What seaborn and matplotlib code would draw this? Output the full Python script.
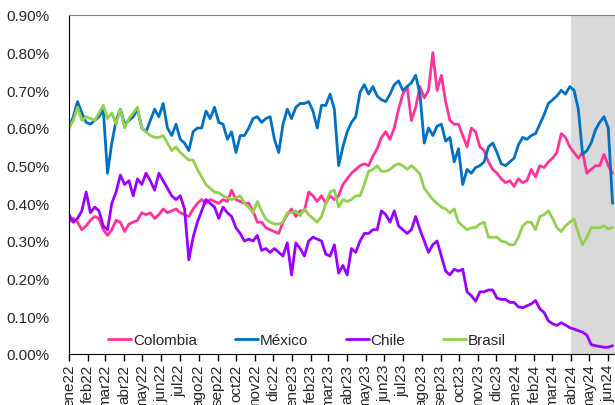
import pandas as pd
import matplotlib
matplotlib.use('Agg')
import matplotlib.pyplot as plt
import matplotlib.ticker as mticker
import seaborn as sns

# semanas desde ene-2022 hasta jun-2024 (valores en %)
fechas = pd.date_range('2022-01-01', periods=128, freq='7D')

colombia = [
    0.35, 0.36, 0.35, 0.33, 0.34, 0.355, 0.365, 0.36, 0.33, 0.315,
    0.33, 0.355, 0.35, 0.325, 0.345, 0.35, 0.355, 0.375, 0.37, 0.375,
    0.36, 0.37, 0.385, 0.375, 0.38, 0.385, 0.375, 0.37, 0.365, 0.385,
    0.40, 0.41, 0.40, 0.41, 0.405, 0.40, 0.41, 0.405, 0.435, 0.41,
    0.405, 0.40, 0.40, 0.38, 0.35, 0.35, 0.335, 0.33, 0.325, 0.32,
    0.35, 0.37, 0.385, 0.365, 0.38, 0.38, 0.43, 0.42, 0.405, 0.42,
    0.40, 0.42, 0.41, 0.42, 0.45, 0.465, 0.48, 0.49, 0.50, 0.505,
    0.50, 0.525, 0.545, 0.575, 0.59, 0.57, 0.60, 0.65, 0.69, 0.71,
    0.62, 0.655, 0.71, 0.68, 0.70, 0.80, 0.70, 0.74, 0.67, 0.62,
    0.61, 0.61, 0.58, 0.55, 0.60, 0.59, 0.55, 0.54, 0.51, 0.49,
    0.48, 0.465, 0.455, 0.46, 0.445, 0.465, 0.455, 0.46, 0.49, 0.47,
    0.50, 0.495, 0.51, 0.52, 0.535, 0.585, 0.575, 0.55, 0.535, 0.52,
    0.535, 0.48, 0.49, 0.50, 0.50, 0.53, 0.50, 0.48,
]

mexico = [
    0.60, 0.63, 0.67, 0.64, 0.615, 0.61, 0.62, 0.63, 0.65, 0.48,
    0.56, 0.62, 0.65, 0.61, 0.62, 0.63, 0.65, 0.60, 0.59, 0.62,
    0.65, 0.63, 0.665, 0.60, 0.58, 0.61, 0.57, 0.56, 0.54, 0.59,
    0.60, 0.60, 0.645, 0.625, 0.655, 0.615, 0.61, 0.57, 0.59, 0.535,
    0.58, 0.58, 0.60, 0.625, 0.63, 0.615, 0.625, 0.63, 0.57, 0.535,
    0.61, 0.65, 0.625, 0.655, 0.665, 0.665, 0.67, 0.645, 0.60, 0.66,
    0.66, 0.69, 0.65, 0.50, 0.55, 0.59, 0.615, 0.63, 0.695, 0.715,
    0.69, 0.71, 0.685, 0.675, 0.67, 0.69, 0.715, 0.725, 0.70, 0.71,
    0.72, 0.74, 0.69, 0.56, 0.60, 0.58, 0.605, 0.61, 0.565, 0.575,
    0.51, 0.545, 0.45, 0.49, 0.48, 0.495, 0.50, 0.51, 0.55, 0.56,
    0.535, 0.505, 0.50, 0.51, 0.52, 0.555, 0.575, 0.57, 0.58, 0.585,
    0.61, 0.635, 0.665, 0.675, 0.685, 0.70, 0.69, 0.71, 0.70, 0.65,
    0.53, 0.54, 0.56, 0.595, 0.615, 0.63, 0.60, 0.40,
]

chile = [
    0.37, 0.35, 0.36, 0.38, 0.43, 0.375, 0.39, 0.38, 0.34, 0.33,
    0.40, 0.43, 0.475, 0.45, 0.46, 0.42, 0.465, 0.45, 0.48, 0.46,
    0.435, 0.48, 0.46, 0.44, 0.42, 0.41, 0.42, 0.385, 0.25, 0.31,
    0.35, 0.38, 0.41, 0.40, 0.39, 0.36, 0.39, 0.375, 0.365, 0.335,
    0.32, 0.30, 0.305, 0.30, 0.315, 0.275, 0.28, 0.27, 0.28, 0.27,
    0.26, 0.295, 0.21, 0.295, 0.28, 0.26, 0.30, 0.31, 0.305, 0.30,
    0.265, 0.26, 0.29, 0.215, 0.235, 0.21, 0.28, 0.27, 0.30, 0.32,
    0.32, 0.33, 0.33, 0.38, 0.37, 0.35, 0.38, 0.34, 0.33, 0.32,
    0.33, 0.365, 0.33, 0.30, 0.27, 0.29, 0.30, 0.26, 0.22, 0.21,
    0.225, 0.22, 0.225, 0.165, 0.155, 0.14, 0.165, 0.165, 0.17, 0.17,
    0.148, 0.145, 0.145, 0.137, 0.137, 0.125, 0.123, 0.128, 0.133, 0.142,
    0.12, 0.11, 0.088, 0.08, 0.076, 0.083, 0.077, 0.07, 0.066, 0.062,
    0.058, 0.05, 0.025, 0.022, 0.02, 0.018, 0.018, 0.022,
]

brasil = [
    0.60, 0.62, 0.655, 0.62, 0.63, 0.625, 0.62, 0.64, 0.66, 0.625,
    0.64, 0.61, 0.65, 0.60, 0.625, 0.64, 0.655, 0.60, 0.59, 0.58,
    0.575, 0.575, 0.58, 0.56, 0.54, 0.55, 0.535, 0.525, 0.515, 0.515,
    0.49, 0.47, 0.45, 0.44, 0.43, 0.428, 0.42, 0.415, 0.41, 0.415,
    0.42, 0.40, 0.39, 0.375, 0.405, 0.38, 0.358, 0.35, 0.345, 0.345,
    0.35, 0.375, 0.375, 0.38, 0.367, 0.385, 0.37, 0.36, 0.35, 0.365,
    0.40, 0.43, 0.435, 0.39, 0.41, 0.405, 0.41, 0.42, 0.42, 0.45,
    0.485, 0.49, 0.50, 0.485, 0.485, 0.49, 0.50, 0.505, 0.50, 0.49,
    0.50, 0.49, 0.478, 0.44, 0.425, 0.41, 0.40, 0.39, 0.385, 0.375,
    0.385, 0.35, 0.34, 0.33, 0.335, 0.336, 0.345, 0.35, 0.31, 0.31,
    0.31, 0.30, 0.297, 0.29, 0.29, 0.31, 0.34, 0.35, 0.35, 0.33,
    0.365, 0.37, 0.38, 0.36, 0.335, 0.325, 0.34, 0.35, 0.358, 0.32,
    0.29, 0.31, 0.335, 0.335, 0.335, 0.34, 0.332, 0.336,
]

paises = ['Colombia', 'México', 'Chile', 'Brasil']
colores = ['#FF3399', '#0070C0', '#9900FF', '#92D050']

meses = ['ene22', 'feb22', 'mar22', 'abr22', 'may22', 'jun22', 'jul22', 'ago22',
         'sep22', 'oct22', 'nov22', 'dic22', 'ene23', 'feb23', 'mar23', 'abr23',
         'may23', 'jun23', 'jul23', 'ago23', 'sep23', 'oct23', 'nov23', 'dic23',
         'ene24', 'feb24', 'mar24', 'abr24', 'may24', 'jun24']

# tabla larga para seaborn
df = pd.concat([
    pd.DataFrame({'fecha': fechas, 'valor': v, 'pais': p})
    for p, v in zip(paises, [colombia, mexico, chile, brasil])
])

sns.set_style('white')
plt.rcParams['font.family'] = ['Liberation Sans', 'DejaVu Sans']

fig = plt.figure(figsize=(6.15, 4.06), dpi=100)
ax = fig.add_axes([69 / 615, 51 / 406, 546 / 615, 339 / 406])

x0 = pd.Timestamp('2022-01-01')
x1 = pd.Timestamp('2024-06-12')
ax.axvspan(pd.Timestamp('2024-04-01'), x1, color='#D9D9D9', lw=0, zorder=0)

sns.lineplot(data=df, x='fecha', y='valor', hue='pais', hue_order=paises,
             palette=dict(zip(paises, colores)), linewidth=2.0, ax=ax)

ax.set_xlim(x0, x1)
ax.set_ylim(0, 0.9)
ax.yaxis.set_major_locator(mticker.MultipleLocator(0.1))
ax.yaxis.set_major_formatter(mticker.FuncFormatter(lambda v, _: f'{v:.2f}%'))

ticks = pd.date_range('2022-01-01', periods=len(meses), freq='MS')
ax.set_xticks(ticks)
ax.set_xticklabels(meses, rotation=90, va='top', ha='center')
ax.tick_params(axis='x', direction='out', length=5, width=1, color='black',
               pad=2, labelsize=11, bottom=True)
ax.tick_params(axis='y', length=0, pad=14, labelsize=11)
ax.set_xlabel('')
ax.set_ylabel('')

ax.spines['left'].set_color('black')
ax.spines['bottom'].set_color('black')
ax.spines['top'].set_color('#808080')
ax.spines['right'].set_visible(False)

ax.legend(loc='lower left', bbox_to_anchor=(0.072, 0.02), ncol=4, frameon=False,
          fontsize=11, handlelength=1.5, handletextpad=0.1, columnspacing=2.5,
          borderpad=0, borderaxespad=0)

fig.savefig('out.png', dpi=100)
